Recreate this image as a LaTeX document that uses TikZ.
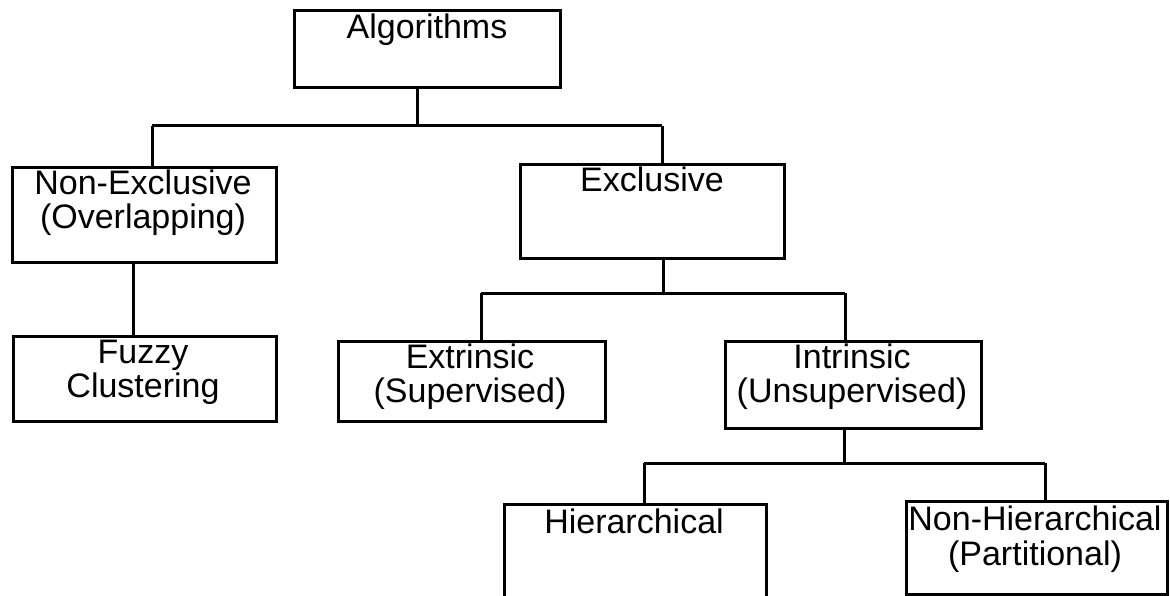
\documentclass[tikz,border=0pt]{standalone}
\usepackage{fontspec}
\setmainfont{Liberation Sans}
\begin{document}
\begin{tikzpicture}[x=1pt,y=-1pt,
  box/.style={draw, line width=3pt, inner sep=0pt, anchor=north west},
  lbl/.style={font=\fontsize{34}{34}\selectfont, inner sep=0pt, anchor=base, align=center},
  conn/.style={line width=3pt}]
\useasboundingbox (0,0) rectangle (1170,596);
\clip (0,0) rectangle (1170,596);
% boxes
\node[box, minimum width=266pt, minimum height=77pt] (alg) at (293,9) {};
\node[box, minimum width=264pt, minimum height=95pt] (nonexcl) at (11,166) {};
\node[box, minimum width=264pt, minimum height=94pt] (excl) at (519,163) {};
\node[box, minimum width=263pt, minimum height=85pt] (fuzzy) at (12,335) {};
\node[box, minimum width=267pt, minimum height=80pt] (extr) at (337,340) {};
\node[box, minimum width=256pt, minimum height=87pt] (intr) at (724,340) {};
\node[box, minimum width=262pt, minimum height=120pt] (hier) at (503,503) {};
\node[box, minimum width=261pt, minimum height=93pt] (nonhier) at (905,500) {};
% labels (one node per printed line)
\node[lbl] (talg) at (427,39) {Algorithms};
\node[lbl] (tnonexcl) at (143,195) {Non-Exclusive};
\node[lbl] (tnonexclb) at (143,229) {(Overlapping)};
\node[lbl] (texcl) at (652,192) {Exclusive};
\node[lbl] (tfuzzy) at (143,363) {Fuzzy};
\node[lbl] (tfuzzyb) at (143,397) {Clustering};
\node[lbl] (textr) at (470,368) {Extrinsic};
\node[lbl] (textrb) at (470,402) {(Supervised)};
\node[lbl] (tintr) at (852,368) {Intrinsic};
\node[lbl] (tintrb) at (852,402) {(Unsupervised)};
\node[lbl] (thier) at (634,533) {Hierarchical};
\node[lbl] (tnonhier) at (1035,530) {Non-Hierarchical};
\node[lbl] (tnonhierb) at (1035,565) {(Partitional)};
% level 1 connectors
\coordinate (j1) at (417,126);
\coordinate (d1) at (152,126);
\coordinate (d2) at (662,126);
\draw[conn] (alg.south -| j1) -- (j1);
\draw[conn] (d1) -- (d2);
\draw[conn] (d1) -- (d1 |- nonexcl.north);
\draw[conn] (d2) -- (d2 |- excl.north);
\coordinate (k1) at (133,300);
\draw[conn] (nonexcl.south -| k1) -- (fuzzy.north -| k1);
% level 2
\coordinate (j2) at (663,293);
\coordinate (e1) at (481,293);
\coordinate (e2) at (845,293);
\draw[conn] (excl.south -| j2) -- (j2);
\draw[conn] (e1) -- (e2);
\draw[conn] (e1) -- (e1 |- extr.north);
\draw[conn] (e2) -- (e2 |- intr.north);
% level 3
\coordinate (j3) at (844,463);
\coordinate (f1) at (644,463);
\coordinate (f2) at (1045,463);
\draw[conn] (intr.south -| j3) -- (j3);
\draw[conn] (f1) -- (f2);
\draw[conn] (f1) -- (f1 |- hier.north);
\draw[conn] (f2) -- (f2 |- nonhier.north);
\end{tikzpicture}
\end{document}
